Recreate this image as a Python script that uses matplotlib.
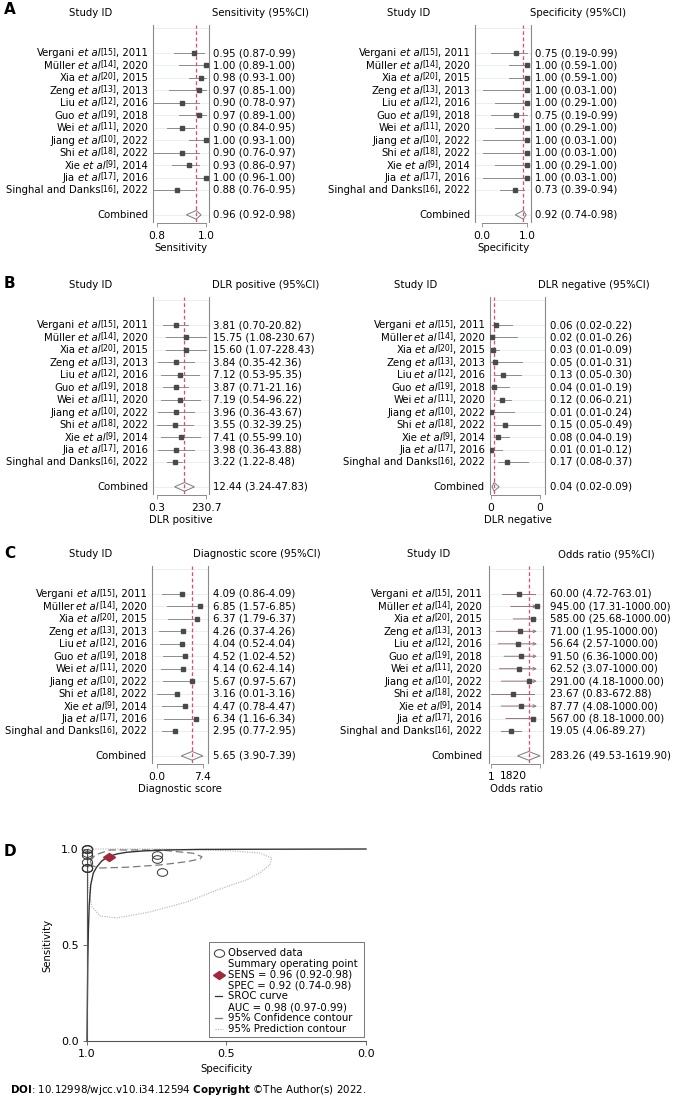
import numpy as np
import matplotlib
matplotlib.use("Agg")
import matplotlib.pyplot as plt
from matplotlib.transforms import blended_transform_factory, Affine2D, offset_copy
from matplotlib.markers import MarkerStyle
from matplotlib.ticker import NullLocator

plt.rcParams['font.family'] = ['DejaVu Sans']
plt.rcParams['mathtext.fontset'] = 'dejavusans'

# ---- study data ----
names = ["Vergani", "Müller", "Xia", "Zeng", "Liu", "Guo", "Wei", "Jiang", "Shi", "Xie", "Jia", "Singhal and Danks"]
refs = [15, 14, 20, 13, 12, 19, 11, 10, 18, 9, 17, 16]
years = [2011, 2020, 2015, 2013, 2016, 2018, 2020, 2022, 2022, 2014, 2016, 2022]

sens = [0.95, 1.00, 0.98, 0.97, 0.90, 0.97, 0.90, 1.00, 0.90, 0.93, 1.00, 0.88]
sens_lo = [0.87, 0.89, 0.93, 0.85, 0.78, 0.89, 0.84, 0.93, 0.76, 0.86, 0.96, 0.76]
sens_hi = [0.99, 1.00, 1.00, 1.00, 0.97, 1.00, 0.95, 1.00, 0.97, 0.97, 1.00, 0.95]
spec = [0.75, 1.00, 1.00, 1.00, 1.00, 0.75, 1.00, 1.00, 1.00, 1.00, 1.00, 0.73]
spec_lo = [0.19, 0.59, 0.59, 0.03, 0.29, 0.19, 0.29, 0.03, 0.03, 0.29, 0.03, 0.39]
spec_hi = [0.99, 1.00, 1.00, 1.00, 1.00, 0.99, 1.00, 1.00, 1.00, 1.00, 1.00, 0.94]
dlrp = [3.81, 15.75, 15.60, 3.84, 7.12, 3.87, 7.19, 3.96, 3.55, 7.41, 3.98, 3.22]
dlrp_lo = [0.70, 1.08, 1.07, 0.35, 0.53, 0.71, 0.54, 0.36, 0.32, 0.55, 0.36, 1.22]
dlrp_hi = [20.82, 230.67, 228.43, 42.36, 95.35, 21.16, 96.22, 43.67, 39.25, 99.10, 43.88, 8.48]
dlrn = [0.06, 0.02, 0.03, 0.05, 0.13, 0.04, 0.12, 0.01, 0.15, 0.08, 0.01, 0.17]
dlrn_lo = [0.02, 0.01, 0.01, 0.01, 0.05, 0.01, 0.06, 0.01, 0.05, 0.04, 0.01, 0.08]
dlrn_hi = [0.22, 0.26, 0.09, 0.31, 0.30, 0.19, 0.21, 0.24, 0.49, 0.19, 0.12, 0.37]
dscore = [4.09, 6.85, 6.37, 4.26, 4.04, 4.52, 4.14, 5.67, 3.16, 4.47, 6.34, 2.95]
dscore_lo = [0.86, 1.57, 1.79, 0.37, 0.52, 1.02, 0.62, 0.97, 0.01, 0.78, 1.16, 0.77]
dscore_hi = [4.09, 6.85, 6.37, 4.26, 4.04, 4.52, 4.14, 5.67, 3.16, 4.47, 6.34, 2.95]
dor = [60.00, 945.00, 585.00, 71.00, 56.64, 91.50, 62.52, 291.00, 23.67, 87.77, 567.00, 19.05]
dor_lo = [4.72, 17.31, 25.68, 1.95, 2.57, 6.36, 3.07, 4.18, 0.83, 4.08, 8.18, 4.06]
dor_hi = [763.01, 1000.0, 1000.0, 1000.0, 1000.0, 1000.0, 1000.0, 1000.0, 672.88, 1000.0, 1000.0, 89.27]

# pooled (estimate, low, high)
p_sens = (0.96, 0.92, 0.98)
p_spec = (0.92, 0.74, 0.98)
p_dlrp = (12.44, 3.24, 47.83)
p_dlrn = (0.04, 0.02, 0.09)
p_dscore = (5.65, 3.90, 7.39)
p_dor = (283.26, 49.53, 1619.90)

# ---- SROC panel, points ----
sroc_spec = [1.000, 0.9986, 0.9971, 0.995, 0.992, 0.9867, 0.9774, 0.9652, 0.9473, 0.9237, 0.8935, 0.8577, 0.7982, 0.7143, 0.595, 0.0]
sroc_sens = [0.000, 0.2135, 0.4219, 0.578, 0.708, 0.8125, 0.875, 0.906, 0.9375, 0.960, 0.974, 0.983, 0.990, 0.995, 0.998, 1.000]
conf_spec = [0.989, 0.971, 0.918, 0.738, 0.620, 0.588, 0.595, 0.642, 0.738, 0.857, 0.953, 0.978, 0.989]
conf_sens = [0.934, 0.969, 0.995, 0.995, 0.978, 0.960, 0.948, 0.934, 0.917, 0.905, 0.901, 0.911, 0.934]
pred_spec = [0.996, 0.714, 0.478, 0.381, 0.338, 0.345, 0.381, 0.428, 0.535, 0.642, 0.775, 0.893, 0.953, 0.982, 0.993, 0.996, 0.996, 0.996]
pred_sens = [1.000, 1.000, 0.990, 0.979, 0.953, 0.917, 0.875, 0.839, 0.786, 0.724, 0.672, 0.641, 0.651, 0.698, 0.771, 0.854, 0.958, 1.000]

legend_lines = ["Observed data", "Summary operating point", "SENS = 0.96 (0.92-0.98)", "SPEC = 0.92 (0.74-0.98)",
                "SROC curve", "AUC = 0.98 (0.97-0.99)", "95% Confidence contour", "95% Prediction contour"]

W, H = 678, 1098
fig = plt.figure(figsize=(W / 100, H / 100), dpi=100)
renderer = fig.canvas.get_renderer()


def px_box(l, t, r, b):
    return [l / W, 1 - b / H, (r - l) / W, (b - t) / H]


ROW = 12.45
FS = 7.3


def study_label(ax, tr, x, y, i):
    # built right to left: name, italic et al, raised ref, year
    if names[i].startswith("Singhal"):
        pieces = [(names[i], FS, 'normal', 0, 0)]
    else:
        pieces = [(names[i], FS, 'normal', 0, 2.4), ('et al', FS, 'italic', 0, 0)]
    pieces += [(f"[{refs[i]}]", 5.6, 'normal', 2.8, 0), (f", {years[i]}", FS, 'normal', 0, 0)]
    off = 0.0
    for txt, fs, st, dy, gap in reversed(pieces):
        off += gap
        t = ax.text(x, y, txt, transform=offset_copy(tr, fig=fig, x=-off, y=dy, units='dots'),
                    ha='right', va='baseline', fontsize=fs, fontstyle=st)
        off += t.get_window_extent(renderer).width


def forest(l, r, row0, est, lo, hi, pooled, xlim, ticks, tlabels, log,
           lab_end, val_x, sid_x, hdr_x, hdr, xlabel, line_col='#8c8c8c', arrow_at=None):
    top = row0 - 2.25 * ROW
    bot = row0 + 13.55 * ROW
    ax = fig.add_axes(px_box(l, top, r, bot))
    if log:
        ax.set_xscale('log')
    ax.set_xlim(xlim)
    ax.set_ylim(13.55, -2.25)
    tr = blended_transform_factory(ax.transAxes, ax.transData)
    fx = lambda px: (px - l) / (r - l)

    rows = np.arange(len(est))
    for y in [-2] + list(rows) + [13]:
        ax.axhline(y, color='#e6edf0', lw=0.6, zorder=0)
    ax.axvline(pooled[0], color='#e8457a', ls=(0, (3, 2)), lw=0.9, zorder=1)
    for i in rows:
        if arrow_at is not None and hi[i] >= arrow_at:
            ax.annotate('', xy=(hi[i], i), xytext=(lo[i], i),
                        arrowprops=dict(arrowstyle='->', lw=0.7, color=line_col,
                                        shrinkA=0, shrinkB=0, mutation_scale=5))
        else:
            ax.plot([lo[i], hi[i]], [i, i], color=line_col, lw=0.7, zorder=2)
    ax.plot(est, rows, 's', ms=2.8, color='#4a4a4a', zorder=3)
    e, a, b = pooled
    ax.fill([a, e, b, e], [13, 12.65, 13, 13.35], fc='none', ec='#7a7a7a', lw=0.7, zorder=3)

    for i in rows:
        study_label(ax, tr, fx(lab_end), i + 0.28, i)
        ax.text(fx(val_x), i, f"{est[i]:.2f} ({lo[i]:.2f}-{hi[i]:.2f})", transform=tr,
                ha='left', va='center', fontsize=FS)
    ax.text(fx(lab_end), 13, "Combined", transform=tr, ha='right', va='center', fontsize=FS)
    ax.text(fx(val_x), 13, f"{e:.2f} ({a:.2f}-{b:.2f})", transform=tr, ha='left', va='center', fontsize=FS)
    ax.text(fx(sid_x), -3.2, "Study ID", transform=tr, ha='center', va='center', fontsize=FS)
    ax.text(fx(hdr_x), -3.2, hdr, transform=tr, ha='left', va='center', fontsize=FS)

    ax.spines['top'].set_visible(False)
    for s in ['left', 'right']:
        ax.spines[s].set_color('#8a8a8a')
        ax.spines[s].set_linewidth(0.8)
    ax.spines['bottom'].set_color('#8a8a8a')
    ax.spines['bottom'].set_linewidth(0.7)
    ax.spines['bottom'].set_bounds(ticks[0], ticks[-1])
    ax.spines['bottom'].set_position(('outward', 1))
    ax.set_yticks([])
    ax.set_xticks(ticks)
    ax.set_xticklabels(tlabels)
    ax.xaxis.set_minor_locator(NullLocator())
    ax.tick_params(axis='x', length=3, width=0.6, color='#8a8a8a', labelsize=7.7, pad=2.5)
    ax.set_xlabel(xlabel, fontsize=FS, labelpad=1.5)
    return ax


forest(153, 209, 53, sens, sens_lo, sens_hi, p_sens, (0.7837, 1.0122), [0.8, 1.0], ['0.8', '1.0'], False,
       148, 213, 91, 212, "Sensitivity (95%CI)", "Sensitivity")
forest(475, 531, 53, spec, spec_lo, spec_hi, p_spec, (-0.156, 1.089), [0.0, 1.0], ['0.0', '1.0'], False,
       470, 535, 409, 530, "Specificity (95%CI)", "Specificity")
forest(153, 209, 325, dlrp, dlrp_lo, dlrp_hi, p_dlrp, (0.1743, 346.7), [0.3, 230.7], ['0.3', '230.7'], True,
       148, 213, 91, 212, "DLR positive (95%CI)", "DLR positive")
forest(490, 545, 325, dlrn, dlrn_lo, dlrn_hi, p_dlrn, (0.0002, 0.539), [0.01, 0.49], ['0', '0'], False,
       485, 550, 416, 538, "DLR negative (95%CI)", "DLR negative")
forest(152, 208, 594, dscore, dscore_lo, dscore_hi, p_dscore, (-0.80, 8.2), [0.01, 7.39], ['0.0', '7.4'], False,
       147, 213, 91, 193, "Diagnostic score (95%CI)", "Diagnostic score")
axor = forest(489, 543, 594, dor, dor_lo, dor_hi, p_dor, (0.609, 2576), [0.83, 1619.9], ['1', ''], True,
              482, 550, 429, 558, "Odds ratio (95%CI)", "Odds ratio", line_col='#98727a', arrow_at=1000)
axor.annotate('1820', xy=((513 - 489) / (543 - 489), 0), xycoords='axes fraction',
              xytext=(0, -6.3), textcoords='offset points', ha='center', va='top', fontsize=7.7)

# panel letters
for lab, y in [("A", 10), ("B", 283), ("C", 553), ("D", 852)]:
    fig.text(4 / W, 1 - y / H, lab, fontsize=11, fontweight='bold', va='center', ha='left')

# ---- panel D: SROC ----
ax = fig.add_axes(px_box(87, 849, 366, 1041))
ax.set_xlim(1.0, 0.0)
ax.set_ylim(0.0, 1.0)
ax.plot(pred_spec, pred_sens, color='#b0b0b0', lw=0.8, ls=(0, (1, 1.2)), clip_on=False)
ax.plot(conf_spec, conf_sens, color='#7a7a7a', lw=0.9, ls=(0, (6, 3)), clip_on=False)
ax.plot(sroc_spec, sroc_sens, color='#333333', lw=1.0, clip_on=False)
ell = MarkerStyle('o', transform=Affine2D().scale(1.35, 1.0))
ax.plot(spec, sens, ls='none', marker=ell, ms=5.5, mfc='none', mec='#333333', mew=0.7, clip_on=False, zorder=4)
dia = MarkerStyle('D', transform=Affine2D().scale(1.4, 0.9))
ax.plot(p_spec[0], p_sens[0], ls='none', marker=dia, ms=4.5, color='#a0283c', zorder=5)
for s in ['top', 'right']:
    ax.spines[s].set_visible(False)
for s in ['left', 'bottom']:
    ax.spines[s].set_color('#555555')
    ax.spines[s].set_linewidth(0.8)
ax.set_xticks([1.0, 0.5, 0.0])
ax.set_xticklabels(['1.0', '0.5', '0.0'])
ax.set_yticks([0.0, 0.5, 1.0])
ax.set_yticklabels(['0.0', '0.5', '1.0'])
ax.tick_params(length=3, width=0.6, color='#555555', labelsize=8, pad=3)
ax.set_xlabel("Specificity", fontsize=FS, labelpad=3)
ax.set_ylabel("Sensitivity", fontsize=FS, labelpad=6)

# legend box drawn in pixel units
lg = fig.add_axes(px_box(209, 942, 364, 1037))
lg.set_xlim(209, 364)
lg.set_ylim(1037, 942)
lg.set_xticks([])
lg.set_yticks([])
for s in lg.spines.values():
    s.set_color('#777777')
    s.set_linewidth(0.7)
lg.patch.set_alpha(0)
step = (1029 - 953) / 7
leg_y = [953 + k * step for k in range(8)]
lg.text(228, (953 + 1029) / 2, "\n".join(legend_lines), fontsize=FS, va='center', ha='left', linespacing=1.1)
lg.plot([219], [leg_y[0]], ls='none', marker=ell, ms=5.5, mfc='none', mec='#333333', mew=0.7)
lg.plot([219], [leg_y[2]], ls='none', marker=dia, ms=4.5, color='#a0283c')
lg.plot([215, 222], [leg_y[4]] * 2, color='#333333', lw=0.9)
lg.plot([215, 222], [leg_y[6]] * 2, color='#7a7a7a', lw=0.9)
lg.plot([215, 223], [leg_y[7]] * 2, color='#b0b0b0', lw=0.8, ls=(0, (1, 1.2)))

fig.text(10 / W, 1 - 1090 / H,
         r"$\mathbf{DOI}$: 10.12998/wjcc.v10.i34.12594 $\mathbf{Copyright}$ ©The Author(s) 2022.",
         fontsize=7.4, va='center', ha='left')

fig.savefig("out.png", dpi=100)
